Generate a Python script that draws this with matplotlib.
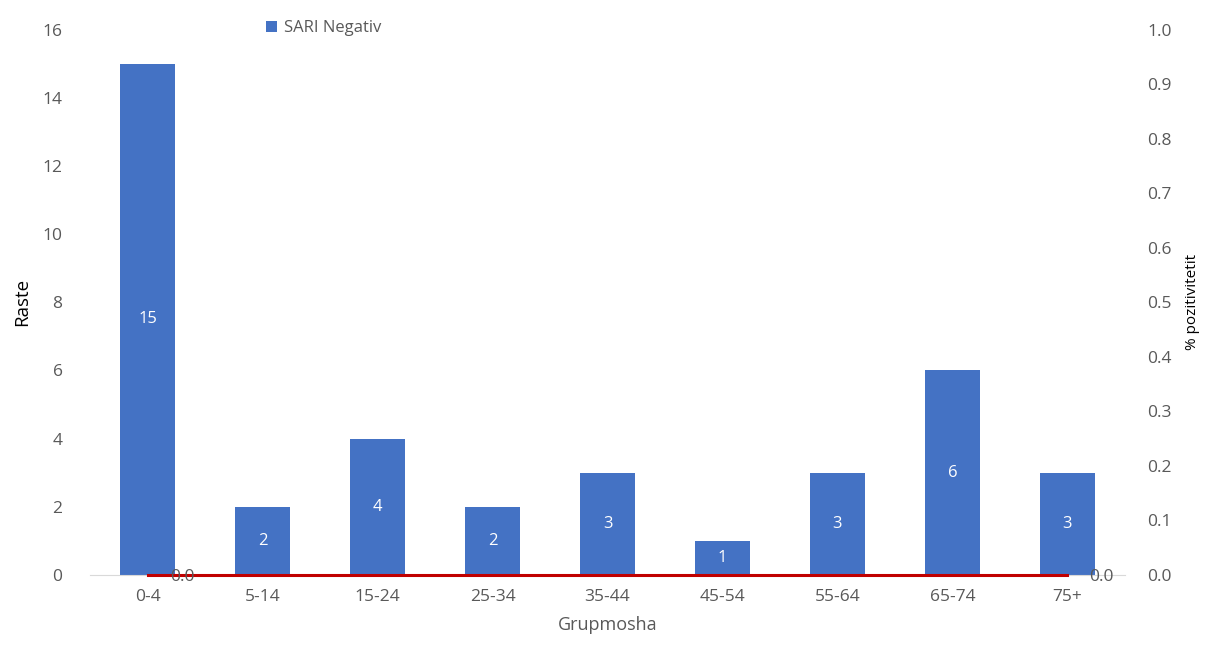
import matplotlib.pyplot as plt
import numpy as np

plt.rcParams['font.family'] = ['Open Sans', 'DejaVu Sans']

groups = ['0-4', '5-14', '15-24', '25-34', '35-44', '45-54', '55-64', '65-74', '75+']
sari_negativ = [15, 2, 4, 2, 3, 1, 3, 6, 3]
pozitiviteti = [0.0, 0.0, 0.0, 0.0, 0.0, 0.0, 0.0, 0.0, 0.0]

gray = '#595959'
blue = '#4472C4'

fig = plt.figure(figsize=(12.2, 6.6), dpi=100)
ax = fig.add_axes([0.074, 0.129, 0.848, 0.826])
x = np.arange(len(groups))

bars = ax.bar(x, sari_negativ, width=0.48, color=blue, label='SARI Negativ', zorder=2)
for b, v in zip(bars, sari_negativ):
    ax.text(b.get_x() + b.get_width() / 2, v / 2, str(v), ha='center', va='center',
            color='white', fontsize=12)

ax.set_xlim(-0.5, len(groups) - 0.5)
ax.set_ylim(0, 16)
ax.set_yticks(range(0, 17, 2))
ax.set_xticks(x)
ax.set_xticklabels(groups)
ax.tick_params(length=0, colors=gray, labelsize=12.5, pad=10)
ax.tick_params(axis='y', pad=20)
for s in ['top', 'right', 'left']:
    ax.spines[s].set_visible(False)
ax.spines['bottom'].set_color('#d9d9d9')
ax.set_ylabel('Raste', fontsize=13.5, color='black', labelpad=8)
ax.set_xlabel('Grupmosha', fontsize=13, color=gray, labelpad=8)

ax2 = ax.twinx()
ax2.plot(x, pozitiviteti, color='#C00000', lw=2.2, zorder=3, clip_on=False)
ax2.set_ylim(0, 1.0)
ax2.set_yticks(np.arange(0, 1.01, 0.1))
ax2.set_yticklabels([f'{t:.1f}' for t in np.arange(0, 1.01, 0.1)])
ax2.tick_params(length=0, colors=gray, labelsize=12.5, pad=16)
for s in ['top', 'right', 'left', 'bottom']:
    ax2.spines[s].set_visible(False)
ax2.set_ylabel('% pozitivitetit', fontsize=11, color='black', labelpad=10)
for i in [0, len(groups) - 1]:
    ax2.annotate(f'{pozitiviteti[i]:.1f}', (x[i], pozitiviteti[i]), xytext=(16, -1.5),
                 textcoords='offset points', ha='left', va='center', color=gray,
                 fontsize=12.5, zorder=5, annotation_clip=False)

leg = ax.legend(loc='upper left', bbox_to_anchor=(0.155, 1.045), frameon=False, fontsize=12,
                handlelength=0.7, handleheight=0.7, handletextpad=0.4)
for t in leg.get_texts():
    t.set_color(gray)

fig.savefig('out.png', dpi=100)
